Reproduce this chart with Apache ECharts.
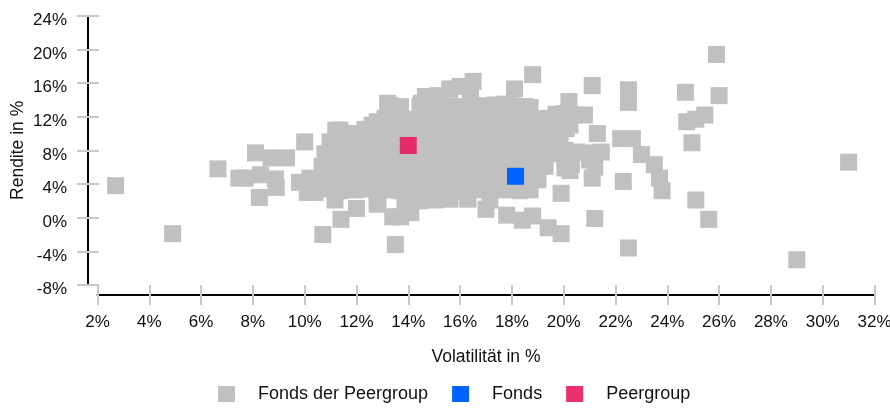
<!DOCTYPE html>
<html>
<head>
<meta charset="utf-8">
<script src="https://cdn.jsdelivr.net/npm/echarts@6/dist/echarts.min.js"></script>
<style>
html,body{margin:0;padding:0;background:#fff;}
#chart{width:890px;height:409px;}
</style>
</head>
<body>
<div id="chart"></div>
<script>
// Axis ticks
const xTicks = [2, 32, 2];   // min, max, interval (Volatilität in %)
const yTicks = [-8, 24, 4];  // min, max, interval (Rendite in %)

// Series names
const seriesNames = ['Fonds der Peergroup', 'Fonds', 'Peergroup'];

// Fonds der Peergroup: [Volatilität %, Rendite %]
const peerOutliers = [
  [2.7,3.8],[4.9,-1.9],[6.65,5.8],[7.46,4.7],[7.7,4.7],[8.1,7.7],[8.3,5.1],[8.25,2.4],[8.7,7.1],
  [8.87,4.6],[8.9,3.6],[9.3,7.1],[9.8,4.2],[10.0,9.0],[10.1,3.0],[10.4,3.0],[10.7,-2.0],
  [11.2,10.4],[11.9,10.0],[12.6,11.0],[12.8,11.4],[13.2,13.6],[13.7,13.2],[14.5,13.6],[14.66,14.4],
  [15.6,15.3],[16.0,15.6],[16.5,16.2],[18.1,15.3],[18.8,17.0],[20.2,13.8],[20.4,12.2],
  [13.5,-3.2],[11.4,-0.2],[12.0,1.1],[12.8,1.6],[13.4,0.1],[13.7,0.1],[14.1,0.6],[12.8,1.9],
  [14.45,2.7],[15.1,2.5],[13.9,2.5],[17.0,1.0],[16.3,2.2],[16.3,2.5],[17.8,0.3],[18.4,-0.3],
  [18.8,0.2],[19.4,-1.2],[19.9,-1.9],[19.9,2.9],[20.05,5.9],[19.0,4.5],
  [21.1,15.7],[22.5,15.2],[22.5,13.7],[20.8,12.2],[21.3,10.0],[22.2,9.4],[22.65,9.4],[23.0,7.5],
  [23.5,6.3],[21.45,7.8],[21.0,6.85],[21.2,6.0],[22.3,4.3],[21.1,4.7],[21.2,-0.1],[22.5,-3.6],
  [23.8,3.2],[23.7,4.7],
  [25.9,19.4],[24.7,14.9],[26.0,14.5],[25.45,12.2],[25.1,11.7],[24.75,11.4],[24.95,8.9],
  [31.0,6.6],[25.1,2.1],[25.6,-0.2],[29.0,-5.0],
  [20.83,7.7],[20.05,6.85],[20.5,7.8],[20.24,5.6],[20.05,12.4],[20.24,11.0],[19.86,9.6],
  [20.05,8.0],[20.3,6.3],[19.7,12.3],[17.73,13.5]
];
const peerCore = [
  [15.15,14.5],[16.4,14.6],
  [13.3,13.3],[14.45,13.2],[15.03,13.4],[15.6,13.3],[16.2,13.2],[16.8,13.3],[17.35,13.4],[17.93,13.3],[18.5,13.2],[18.7,13.1],
  [13.1,11.8],[13.68,11.9],[14.26,11.7],[14.84,11.8],[15.42,11.9],[16.0,11.8],[16.58,11.7],[17.15,11.8],[17.73,11.9],[18.31,11.8],[18.89,11.7],[19.4,11.8],[20.05,11.8],
  [11.36,10.4],[11.83,9.95],[12.33,10.5],[12.91,10.4],[13.49,10.3],[14.07,10.4],[14.64,10.5],[15.22,10.4],[15.8,10.3],[16.38,10.4],[16.96,10.5],[17.54,10.4],[18.12,10.3],[18.7,10.4],[19.28,10.5],[19.86,10.4],[20.1,10.6],
  [10.98,9.0],[11.56,9.1],[12.14,8.9],[12.71,9.0],[13.29,9.1],[13.9,9.8],[13.9,7.8],[14.64,9.0],[15.22,8.9],[15.8,9.0],[16.38,9.1],[16.96,9.0],[17.54,8.9],[18.12,9.0],[18.7,9.1],[19.28,9.0],[19.5,8.9],
  [10.78,7.6],[11.36,7.7],[11.94,7.5],[12.52,7.6],[13.1,7.7],[13.68,7.6],[14.26,7.5],[14.84,7.6],[15.42,7.7],[16.0,7.6],[16.58,7.5],[17.15,7.6],[17.73,7.7],[18.31,7.6],[18.89,7.5],[19.47,7.6],
  [10.67,6.1],[11.17,6.2],[11.75,6.0],[12.33,6.1],[12.91,6.2],[13.49,6.1],[14.07,6.0],[14.64,6.1],[15.22,6.2],[15.8,6.1],[16.38,6.0],[16.96,6.1],[17.54,6.2],[18.12,6.1],[18.7,6.0],[19.28,6.1],
  [10.2,4.7],[10.78,4.8],[11.36,4.6],[11.94,4.7],[12.52,4.8],[13.1,4.7],[13.68,4.6],[14.26,4.7],[14.84,4.8],[15.42,4.7],[16.0,4.6],[16.58,4.7],[17.15,4.8],[17.73,4.7],[18.5,4.6],[19.0,4.7],
  [10.2,3.3],[10.78,3.4],[11.36,3.2],[11.94,3.3],[12.52,3.4],[13.1,3.3],[13.68,3.2],[14.26,3.3],[14.84,3.4],[15.42,3.3],[16.0,3.2],[16.58,3.3],[17.15,3.4],[17.73,3.3],[18.31,3.2],[18.7,3.3],
  [11.17,2.1],[12.83,2.2],[13.87,2.1],[14.45,2.0],[15.03,2.1],[15.61,2.2],[17.15,2.1]
];
const fondsPoint = [[18.14, 4.92]];
const peergroupPoint = [[14.0, 8.58]];

const colors = ['#c0c0c0', '#0062ff', '#e91e63'];
const FONT = 'Liberation Sans, Arial, sans-serif';
const tickGray = '#c9c9c9';

const chart = echarts.init(document.getElementById('chart'), null, {renderer: 'canvas'});

function xAx(main) {
  return {
    type: 'value', min: xTicks[0], max: xTicks[1], interval: xTicks[2],
    position: 'bottom', offset: 10,
    axisLine: {show: main, onZero: false, lineStyle: {color: '#000', width: 2}},
    axisTick: {show: true, inside: !main, length: 10, lineStyle: {color: tickGray, width: 2}},
    axisLabel: {show: main, formatter: '{value}%', margin: 19, color: '#111', fontSize: 17, fontFamily: FONT},
    splitLine: {show: false},
    name: main ? 'Volatilität in %' : '', nameLocation: 'middle', nameGap: 53, nameMoveOverlap: false,
    nameTextStyle: {color: '#111', fontSize: 17.5, fontFamily: FONT}
  };
}
function yAx(main) {
  return {
    type: 'value', min: yTicks[0], max: yTicks[1], interval: yTicks[2],
    position: 'left', offset: 9.5,
    axisLine: {show: main, onZero: false, lineStyle: {color: '#000', width: 2}},
    axisTick: {show: true, inside: !main, length: 11, lineStyle: {color: tickGray, width: 2}},
    axisLabel: {show: main, formatter: '{value}%', margin: 21, color: '#111', fontSize: 17, fontFamily: FONT,
                verticalAlign: 'top', lineHeight: 9},
    splitLine: {show: false},
    name: main ? 'Rendite in %' : '', nameLocation: 'middle', nameGap: 61, nameMoveOverlap: false,
    nameTextStyle: {color: '#111', fontSize: 17.5, fontFamily: FONT}
  };
}

chart.setOption({
  animation: false,
  backgroundColor: '#fff',
  grid: {left: 97.5, right: 15.5, top: 15.7, bottom: 124, containLabel: false, outerBoundsMode: 'none'},
  xAxis: [xAx(true), xAx(false)],
  yAxis: [yAx(true), yAx(false)],
  legend: {
    left: 213, top: 380,
    icon: 'rect', itemWidth: 17, itemHeight: 16, itemGap: 24,
    textStyle: {color: '#111', fontSize: 18, fontFamily: FONT, padding: [0, 0, 0, 18]},
    data: seriesNames
  },
  series: [
    {name: seriesNames[0], type: 'scatter', symbol: 'rect', symbolSize: 17,
     itemStyle: {color: colors[0], opacity: 1}, data: peerOutliers.concat(peerCore)},
    {name: seriesNames[1], type: 'scatter', symbol: 'rect', symbolSize: 17,
     itemStyle: {color: colors[1], opacity: 1}, data: fondsPoint, z: 3},
    {name: seriesNames[2], type: 'scatter', symbol: 'rect', symbolSize: 17,
     itemStyle: {color: colors[2], opacity: 0.92}, data: peergroupPoint, z: 3}
  ]
});
</script>
</body>
</html>
